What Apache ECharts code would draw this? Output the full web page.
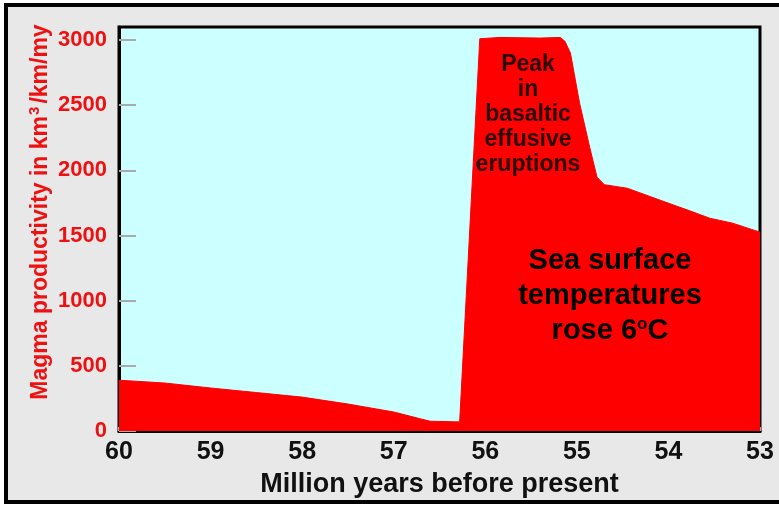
<!DOCTYPE html>
<html><head><meta charset="utf-8">
<script src="https://cdn.jsdelivr.net/npm/echarts@6/dist/echarts.min.js"></script>
<style>html,body{margin:0;padding:0;background:#fff}#c{width:779px;height:507px}</style>
</head><body><div id="c"></div>
<script>
// Age (million years before present)
var ages = [60, 59.5, 59, 58.5, 58, 57.5, 57, 56.7, 56.6, 56.28, 56.06, 55.84, 55.4, 55.18, 55.13, 55.07, 54.97, 54.86, 54.78, 54.7, 54.45, 54.09, 53.73, 53.55, 53.3, 53];
// Magma productivity (km3/km/my)
var productivity = [390, 368, 330, 295, 260, 207, 146, 92, 75, 70, 3010, 3020, 3015, 3020, 2990, 2900, 2515, 2178, 1948, 1890, 1863, 1771, 1680, 1633, 1595, 1526];
var xTicks = [60, 59, 58, 57, 56, 55, 54, 53];
var yTicks = [0, 500, 1000, 1500, 2000, 2500, 3000];

var chart = echarts.init(document.getElementById('c'));
var data = ages.map(function (a, i) { return [a, productivity[i]]; });
var FONT = '"Liberation Sans", Arial, sans-serif';
chart.setOption({
  backgroundColor: '#ffffff',
  animation: false,
  graphic: [
    { type: 'rect', z: -10, shape: { x: 6, y: 5, width: 800, height: 497 },
      style: { fill: '#e8e8e8', stroke: '#000', lineWidth: 4 } },
    { type: 'text', z: 100, x: 41, y: 212, rotation: Math.PI / 2, style: {
        text: '{a|Magma productivity in km}{s|3}{a|/km/my}', textAlign: 'center', textVerticalAlign: 'middle',
        rich: {
          a: { font: 'bold 23px ' + FONT, fill: '#ee1111' },
          s: { font: 'bold 15px ' + FONT, fill: '#ee1111', padding: [0, 3, 12, 1] }
        } } },
    { type: 'text', z: 100, x: 528, y: 52, style: {
        text: 'Peak\nin\nbasaltic\neffusive\neruptions', textAlign: 'center',
        font: 'bold 23px ' + FONT, fill: '#2a0808', lineHeight: 25 } },
    { type: 'text', z: 100, x: 610, y: 243, style: {
        text: '{a|Sea surface}\n{a|temperatures}\n{a|rose 6}{s|o}{a|C}', textAlign: 'center',
        rich: {
          a: { font: 'bold 29px ' + FONT, fill: '#000', lineHeight: 35 },
          s: { font: 'bold 17px ' + FONT, fill: '#000', lineHeight: 35, padding: [0, 0, 12, 0] }
        } } }
  ],
  grid: { left: 119, right: 19, top: 27, bottom: 76, show: true,
          backgroundColor: '#ccffff', borderColor: '#000', borderWidth: 3 },
  xAxis: {
    type: 'value', min: 53, max: 60, interval: 1, inverse: true,
    name: 'Million years before present', nameLocation: 'middle', nameGap: 40,
    nameTextStyle: { fontFamily: FONT, fontWeight: 'bold', fontSize: 27, color: '#111' },
    axisLine: { show: true, lineStyle: { color: '#000', width: 3 } },
    axisTick: { show: true, inside: true, length: 4, lineStyle: { color: '#aaa', width: 2 } },
    axisLabel: { fontFamily: FONT, fontWeight: 'bold', fontSize: 25, color: '#111', margin: 9,
      formatter: function (v) { return xTicks.indexOf(v) >= 0 ? String(v) : ''; } },
    splitLine: { show: false }
  },
  yAxis: {
    type: 'value', min: 0, max: 3100, interval: 500,
    axisLine: { show: true, lineStyle: { color: '#000', width: 3 } },
    axisTick: { show: true, inside: true, length: 17, lineStyle: { color: '#aaa', width: 2 } },
    axisLabel: { fontFamily: FONT, fontWeight: 'bold', fontSize: 22, color: '#ee1111', margin: 12,
      showMaxLabel: false,
      formatter: function (v) { return yTicks.indexOf(v) >= 0 ? String(v) : ''; } },
    splitLine: { show: false }
  },
  series: [{
    type: 'line', data: data, showSymbol: false, symbol: 'none',
    lineStyle: { color: '#ff0000', width: 1 },
    areaStyle: { color: '#ff0000', opacity: 1 },
    z: 2
  }]
});
</script></body></html>
